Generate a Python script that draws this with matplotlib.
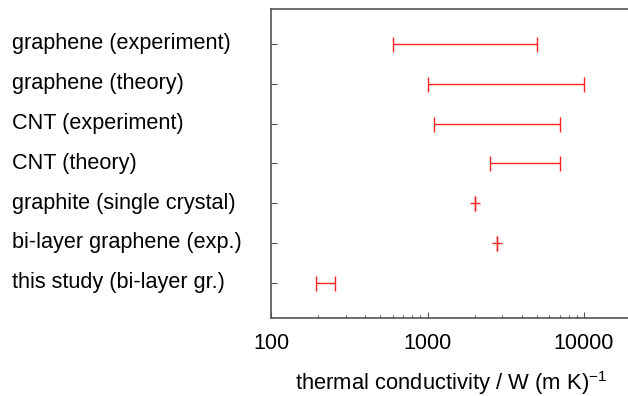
import matplotlib
matplotlib.use("Agg")
import matplotlib.pyplot as plt
import matplotlib.transforms as mtransforms
import numpy as np

plt.rcParams['font.family'] = ['Liberation Sans', 'DejaVu Sans']
plt.rcParams['mathtext.fontset'] = 'custom'
plt.rcParams['mathtext.rm'] = 'Liberation Sans'
plt.rcParams['mathtext.it'] = 'Liberation Sans:italic'

# data (top to bottom)
labels = ["graphene (experiment)", "graphene (theory)", "CNT (experiment)",
          "CNT (theory)", "graphite (single crystal)", "bi-layer graphene (exp.)",
          "this study (bi-layer gr.)"]
low = [600, 1000, 1100, 2500, 2000, 2800, 195]
high = [5000, 10000, 7000, 7000, 2000, 2800, 255]

red = "#ff2222"
spine_col = "#555555"

fig = plt.figure(figsize=(6.28, 3.96), dpi=100)
ax = fig.add_axes([0.4315, 0.1977, 0.5735, 0.7796])

n = len(labels)
ypos = np.arange(n)[::-1]
low = np.array(low, dtype=float)
high = np.array(high, dtype=float)
mid = (low + high) / 2
xerr = np.vstack([mid - low, high - mid])

ax.errorbar(mid, ypos, xerr=xerr, fmt='none', ecolor=red, elinewidth=1.0,
            capsize=5.4, capthick=1.0)
# short stub for the single-value entries
single = low == high
ax.plot(mid[single], ypos[single], linestyle='none', marker='_', markersize=6.5,
        markeredgewidth=1.0, color=red)

ax.set_xscale('log')
ax.set_xlim(100, 20000)
ax.set_ylim(-0.88, n - 1 + 0.88)

ax.set_xticks([100, 1000, 10000])
ax.set_xticklabels(["100", "1000", "10000"])
ax.set_yticks(ypos)
ax.set_yticklabels([])

ax.tick_params(axis='x', which='major', direction='in', length=4, width=0.8,
               color=spine_col, labelsize=15.5, pad=11, top=False)
ax.tick_params(axis='x', which='minor', direction='in', length=2, width=0.8,
               color=spine_col, top=False)
ax.tick_params(axis='y', which='major', direction='in', length=4, width=0.8,
               color=spine_col, right=False)

for side in ['left', 'top', 'bottom', 'right']:
    ax.spines[side].set_color(spine_col)
    ax.spines[side].set_linewidth(1.2)

ax.set_xlabel(r"thermal conductivity / W (m K)$^{-1}$", fontsize=15.8, labelpad=11)

trans = mtransforms.blended_transform_factory(fig.transFigure, ax.transData)
for lab, y in zip(labels, ypos):
    ax.text(12 / 628, y, lab, transform=trans, ha='left', va='center',
            fontsize=15.6, clip_on=False)

fig.savefig("out.png", dpi=100)
